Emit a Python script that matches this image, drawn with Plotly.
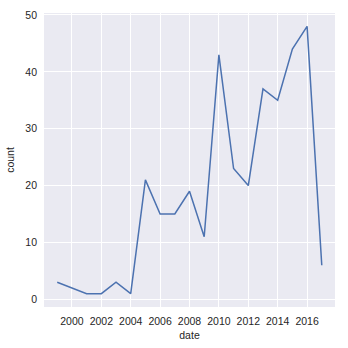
import plotly.graph_objects as go

years = [1999, 2000, 2001, 2002, 2003, 2004, 2005, 2006, 2007, 2008,
         2009, 2010, 2011, 2012, 2013, 2014, 2015, 2016, 2017]
counts = [3, 2, 1, 1, 3, 1, 21, 15, 15, 19, 11, 43, 23, 20, 37, 35, 44, 48, 6]

x_ticks = [2000, 2002, 2004, 2006, 2008, 2010, 2012, 2014, 2016]
y_ticks = [0, 10, 20, 30, 40, 50]

fig = go.Figure()
fig.add_trace(go.Scatter(x=years, y=counts, mode="lines",
                         line=dict(color="#4C72B0", width=1.5)))

font = dict(family="Liberation Sans, Arial, sans-serif", size=10.5, color="#262626")
fig.update_layout(
    width=348, height=348,
    margin=dict(l=44, r=13, t=13, b=41),
    paper_bgcolor="white", plot_bgcolor="#EAEAF2",
    showlegend=False, font=font,
)
fig.update_xaxes(range=[1998.1, 2017.9], tickvals=x_ticks, ticktext=[str(t) for t in x_ticks],
                 showgrid=True, gridcolor="white", gridwidth=1, zeroline=False,
                 showline=False, ticks="", ticklabelstandoff=6, automargin=False,
                 title=dict(text="date", standoff=6, font=font))
fig.update_yaxes(range=[-1.35, 50.35], tickvals=y_ticks,
                 showgrid=True, gridcolor="white", gridwidth=1, zeroline=False,
                 showline=False, ticks="", ticklabelstandoff=6, automargin=False,
                 title=dict(text="count", standoff=8, font=font))

fig.write_html("out.html")
